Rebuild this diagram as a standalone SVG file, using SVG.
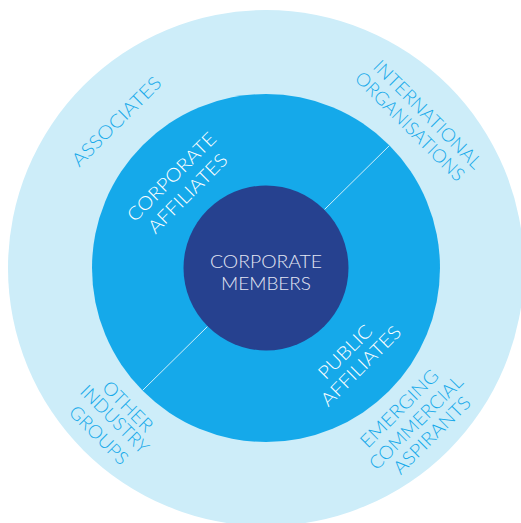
<svg xmlns="http://www.w3.org/2000/svg" width="521" height="523" viewBox="0 0 521 523">
<style>
text{font-family:Lato,"Noto Sans","Liberation Sans",sans-serif;font-size:18.5px;font-weight:300;text-anchor:middle}
.out{fill:#15a9ea}
.mid{fill:#ffffff}
.in{fill:#e3e6f3}
.conn{stroke:#cdeefa;stroke-width:1;fill:none}
</style>
<rect width="521" height="523" fill="#ffffff"/>
<g id="outer-ring">
<circle cx="266" cy="268" r="258" fill="#cdedf9"/>
</g>
<g id="middle-ring">
<circle cx="266" cy="268" r="174" fill="#15a9ea"/>
</g>
<g id="connectors">
<line class="conn" x1="389.3" y1="145.7" x2="324.5" y2="209.5"/>
<line class="conn" x1="207.5" y1="326.5" x2="142.7" y2="390.3"/>
</g>
<g id="corporate-members">
<circle cx="266" cy="268" r="82.5" fill="#26418f"/>
<text class="in" x="266" y="268.3" textLength="112" lengthAdjust="spacingAndGlyphs">CORPORATE</text>
<text class="in" x="266" y="290" textLength="90" lengthAdjust="spacingAndGlyphs">MEMBERS</text>
</g>
<g id="corporate-affiliates">
<text class="mid" transform="translate(171.5 176.7) rotate(-45)" x="0" y="6.6" textLength="117" lengthAdjust="spacingAndGlyphs">CORPORATE</text>
<text class="mid" transform="translate(187.5 193.3) rotate(-45)" x="0" y="6.6" textLength="104" lengthAdjust="spacingAndGlyphs">AFFILIATES</text>
</g>
<g id="public-affiliates">
<text class="mid" transform="translate(345 351.7) rotate(-45)" x="0" y="6.6" textLength="68" lengthAdjust="spacingAndGlyphs">PUBLIC</text>
<text class="mid" transform="translate(360.8 365.8) rotate(-45)" x="0" y="6.6" textLength="105" lengthAdjust="spacingAndGlyphs">AFFILIATES</text>
</g>
<g id="associates">
<text class="out" transform="translate(116.3 121.3) rotate(-45)" x="0" y="6.6" textLength="118" lengthAdjust="spacingAndGlyphs">ASSOCIATES</text>
</g>
<g id="international-organisations">
<text class="out" transform="translate(428 114.4) rotate(45)" x="0" y="6.6" textLength="145" lengthAdjust="spacingAndGlyphs">INTERNATIONAL</text>
<text class="out" transform="translate(410.1 126.3) rotate(45)" x="0" y="6.6" textLength="146" lengthAdjust="spacingAndGlyphs">ORGANISATIONS</text>
</g>
<g id="emerging-commercial-aspirants">
<text class="out" transform="translate(399.2 408.3) rotate(-45)" x="0" y="6.6" textLength="102" lengthAdjust="spacingAndGlyphs">EMERGING</text>
<text class="out" transform="translate(415.8 422.5) rotate(-45)" x="0" y="6.6" textLength="124" lengthAdjust="spacingAndGlyphs">COMMERCIAL</text>
<text class="out" transform="translate(431.7 435) rotate(-45)" x="0" y="6.6" textLength="101" lengthAdjust="spacingAndGlyphs">ASPIRANTS</text>
</g>
<g id="other-industry-groups">
<text class="out" transform="translate(127.9 406.2) rotate(45)" x="0" y="6.6" textLength="63" lengthAdjust="spacingAndGlyphs">OTHER</text>
<text class="out" transform="translate(114.8 419.1) rotate(45)" x="0" y="6.6" textLength="88" lengthAdjust="spacingAndGlyphs">INDUSTRY</text>
<text class="out" transform="translate(98.9 435) rotate(45)" x="0" y="6.6" textLength="75" lengthAdjust="spacingAndGlyphs">GROUPS</text>
</g>
</svg>
